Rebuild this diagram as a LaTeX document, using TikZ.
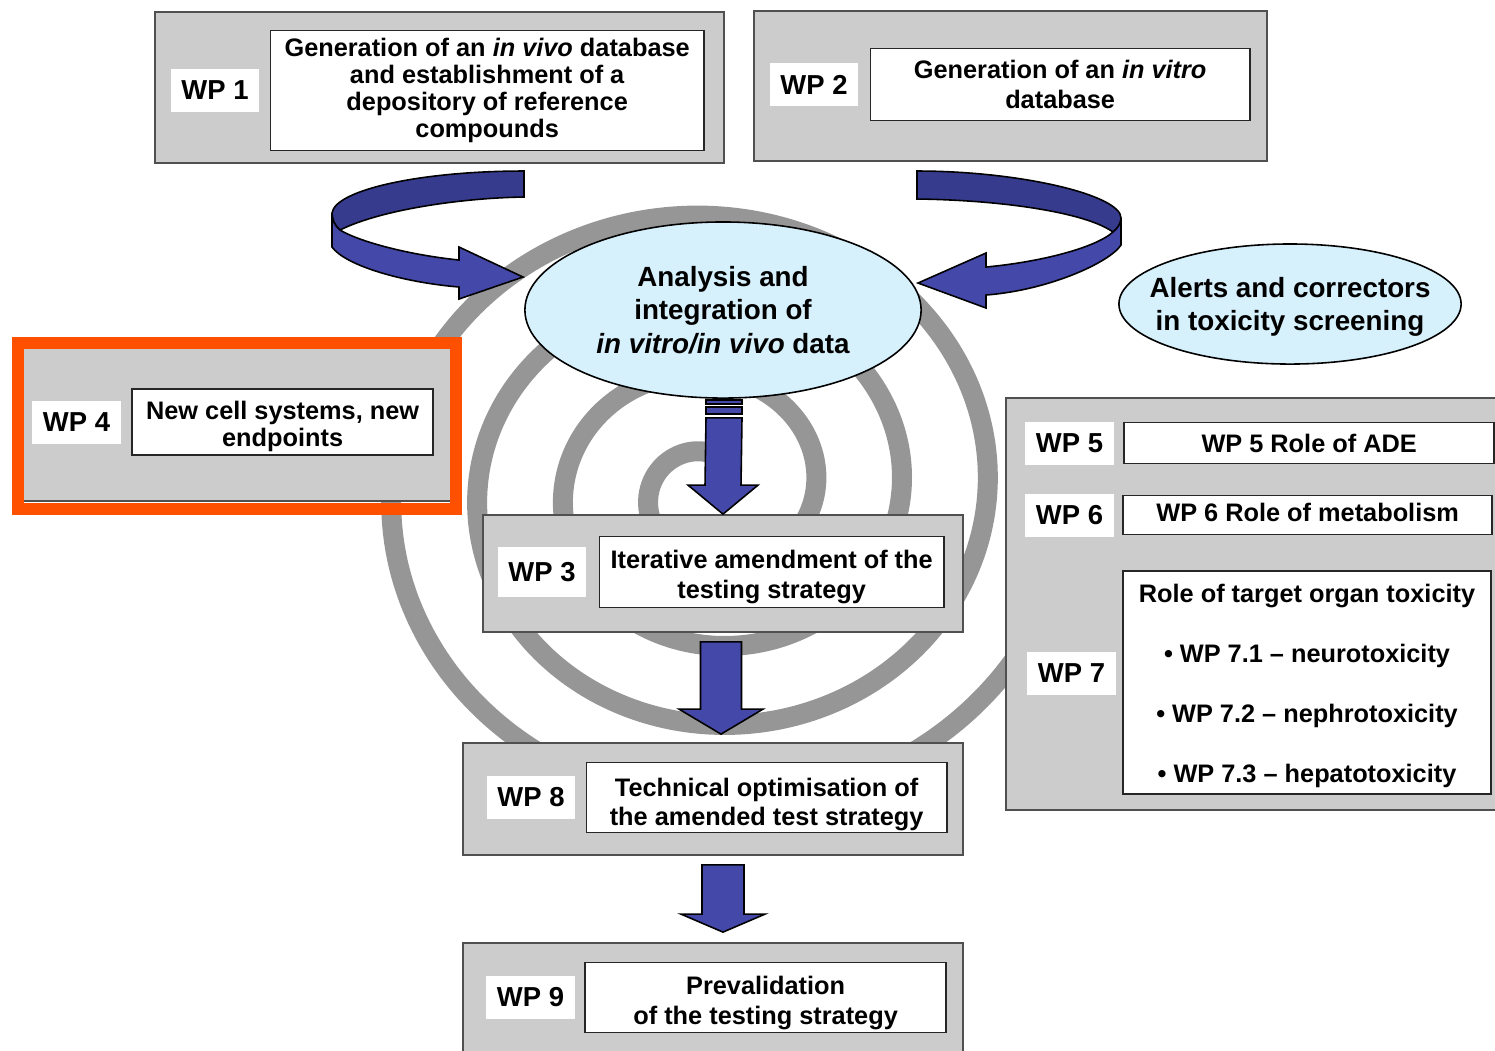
\documentclass[tikz,border=0pt]{standalone}
\usepackage{fontspec}
\setmainfont{Liberation Sans}
\usetikzlibrary{shapes,positioning,calc}

\definecolor{panelgray}{RGB}{204,204,204}
\definecolor{panelline}{RGB}{80,80,80}
\definecolor{spiralgray}{RGB}{150,150,150}
\definecolor{bubbleblue}{RGB}{214,240,252}
\definecolor{arrowblue}{RGB}{68,72,168}
\definecolor{arrowdark}{RGB}{54,59,142}
\definecolor{wpfour}{RGB}{255,80,0}

\newcommand{\labelfont}{\fontsize{7.8}{9}\selectfont\bfseries}
\newcommand{\bubblefont}{\fontsize{7.9}{9.5}\selectfont\bfseries}
\newcommand{\boxfont}{\fontsize{7.2}{8.5}\selectfont\bfseries}
\newcommand{\tightfont}{\fontsize{7.2}{7.7}\selectfont\bfseries}
\newcommand{\listfont}{\fontsize{7.2}{17.1}\selectfont\bfseries}
\newcommand{\ctr}[1]{\makebox[0pt]{#1}}
\newcommand{\tall}[1]{\rule{0pt}{#1}}

% block arrow pointing down: top of stem, tip, stem half width, head half width, head length
\newcommand{\blockdown}[5]{%
  \filldraw[blockarrow] ($(#1)+(-#3,0)$) -- ($(#2)+(-#3,-#5)$) -- ($(#2)+(-#4,-#5)$) -- (#2)
    -- ($(#2)+(#4,-#5)$) -- ($(#2)+(#3,-#5)$) -- ($(#1)+(#3,0)$) -- cycle;}

\begin{document}
\begin{tikzpicture}[x=0.01cm, y=-0.01cm,
    panel/.style={rectangle,draw=panelline,fill=panelgray,line width=0.5pt,inner sep=0pt},
    wplabel/.style={rectangle,fill=white,inner sep=0pt,minimum width=0.88cm,minimum height=0.43cm,font=\labelfont},
    wptext/.style={rectangle,draw=black!85,fill=white,line width=0.45pt,inner sep=0pt,align=center,font=\boxfont},
    bubble/.style={ellipse,draw,fill=bubbleblue,line width=0.45pt,inner sep=0pt,align=center,font=\bubblefont},
    blockarrow/.style={draw=black,fill=arrowblue,line width=0.45pt,line join=miter},
    ribbonback/.style={draw=black,fill=arrowdark,line width=0.45pt},
    ribbonfront/.style={draw=black,fill=arrowblue,line width=0.45pt}]
    \useasboundingbox (0,0) rectangle (1495,1050);
    \clip (0,0) rectangle (1495,1050);

    % spiral behind everything
    \draw [spiralgray,line width=0.2cm] plot [domain=40:1420,samples=360,smooth,variable=\t]
      ({711+(40+(\t-90)/360*86)*cos(\t)},{490-0.92*(40+(\t-90)/360*86)*sin(\t)});

    % curved arrows into the analysis
    \filldraw [ribbonback] (524,171) -- (524,197) .. controls (460,198) and (380,210) .. (340,230)
      .. controls (335,226) and (332,220) .. (332,213) .. controls (335,190) and (420,171) .. (524,171) -- cycle;
    \filldraw [ribbonfront] (332,213) -- (332,247) .. controls (345,265) and (400,282) .. (459,287)
      -- (459,299) -- (523,277) -- (459,247) -- (459,260) .. controls (410,255) and (360,242) .. (340,230)
      .. controls (335,226) and (332,220) .. (332,213) -- cycle;
    \filldraw [ribbonback] (917,171) -- (917,199) .. controls (1000,200) and (1085,212) .. (1113,232)
      .. controls (1118,228) and (1121,223) .. (1121,218) .. controls (1121,195) and (1020,171) .. (917,171) -- cycle;
    \filldraw [ribbonfront] (1121,218) -- (1121,245) .. controls (1110,262) and (1050,290) .. (986,295)
      -- (986,308) -- (918,283) -- (986,253) -- (986,267) .. controls (1040,262) and (1095,248) .. (1113,232)
      .. controls (1118,228) and (1121,223) .. (1121,218) -- cycle;

    \node [bubble,minimum width=3.96cm,minimum height=1.76cm] (analysis) at (723,310)
      {\ctr{Analysis and}\\\ctr{integration of}\\\ctr{\textit{in vitro/in vivo} data}};
    \node [bubble,minimum width=3.42cm,minimum height=1.20cm] (alerts) at (1290,304)
      {\tall{7.5pt}\ctr{Alerts and correctors}\\\ctr{in toxicity screening}};

    % WP 1 and WP 2
    \node [panel,minimum width=5.69cm,minimum height=1.51cm] (wpOne) at (439.5,87.5) {};
    \node [wplabel] (wpOneLabel) at (215,90.5) {WP 1};
    \node [wptext,right=0.1cm of wpOneLabel,minimum width=4.33cm,minimum height=1.2cm,font=\tightfont] (wpOneText)
      {Generation of an \textit{in vivo} database\\and establishment of a\\depository of reference\\compounds};
    \node [panel,minimum width=5.13cm,minimum height=1.5cm] (wpTwo) at (1010.5,86) {};
    \node [wplabel] (wpTwoLabel) at (814,84.5) {WP 2};
    \node [wptext,right=0.11cm of wpTwoLabel,minimum width=3.79cm,minimum height=0.72cm] (wpTwoText)
      {Generation of an \textit{in vitro}\\database};

    % WP 4
    \node [panel,minimum width=4.32cm,minimum height=1.55cm] (wpFour) at (236,423.5) {};
    \node [wplabel] (wpFourLabel) at (76.5,422) {WP 4};
    \node [wptext,right=0.1cm of wpFourLabel,minimum width=3.01cm,minimum height=0.66cm,font=\tightfont] (wpFourText)
      {\tall{7.5pt}New cell systems, new\\endpoints};
    \draw [wpfour,line width=0.12cm] (18,343) rectangle (456,509);

    % WP 3, WP 8, WP 9
    \node [panel,minimum width=4.8cm,minimum height=1.17cm] (wpThree) at (723,573.5) {};
    \node [wplabel,minimum height=0.5cm] (wpThreeLabel) at (542,572) {WP 3};
    \node [wptext,right=0.12cm of wpThreeLabel,minimum width=3.44cm,minimum height=0.71cm] (wpThreeText)
      {\tall{8.1pt}Iterative amendment of the\\testing strategy};
    \node [panel,minimum width=5cm,minimum height=1.12cm] (wpEight) at (713,799) {};
    \node [wplabel] (wpEightLabel) at (531,797.5) {WP 8};
    \node [wptext,right=0.1cm of wpEightLabel,minimum width=3.6cm,minimum height=0.7cm] (wpEightText)
      {\tall{9.2pt}Technical optimisation of\\the amended test strategy};
    \node [panel,minimum width=5cm,minimum height=1.17cm] (wpNine) at (713,1001.5) {};
    \node [wplabel] (wpNineLabel) at (530.5,997.5) {WP 9};
    \node [wptext,right=0.09cm of wpNineLabel,minimum width=3.61cm,minimum height=0.7cm] (wpNineText)
      {\tall{8.1pt}Prevalidation\\of the testing strategy};

    % WP 5, WP 6, WP 7
    \node [panel,minimum width=5.04cm,minimum height=4.12cm] (wpRoles) at (1258,604) {};
    \node [wplabel] (wpFiveLabel) at (1069.5,443) {WP 5};
    \node [wptext,right=0.09cm of wpFiveLabel,minimum width=3.7cm,minimum height=0.41cm] (wpFiveText)
      {WP 5 Role of ADE};
    \node [wplabel] (wpSixLabel) at (1069.5,515) {WP 6};
    \node [wptext,right=0.08cm of wpSixLabel,minimum width=3.69cm,minimum height=0.39cm] (wpSixText)
      {WP 6 Role of metabolism\rule[-1.7pt]{0pt}{1.7pt}};
    \node [wplabel] (wpSevenLabel) at (1071.5,673) {WP 7};
    \node [wptext,minimum width=3.68cm,minimum height=2.23cm,font=\listfont] (wpSevenText) at (1307,682.5)
      {\tall{7pt}Role of target organ toxicity\\• WP 7.1 – neurotoxicity\\• WP 7.2 – nephrotoxicity\\• WP 7.3 – hepatotoxicity};

    % block arrows down the middle
    \path ($(analysis.south)+(1,19)$) coordinate (stemOne) (wpThree.north) coordinate (tipOne);
    \filldraw [blockarrow] ($(stemOne)+(-18,-18)$) rectangle ($(stemOne)+(18,-14)$);
    \filldraw [blockarrow] ($(stemOne)+(-18,-11)$) rectangle ($(stemOne)+(18,-4)$);
    \blockdown{stemOne}{tipOne}{18}{35}{29}
    \path ($(wpThree.south)+(-2,9)$) coordinate (stemTwo) ($(stemTwo |- wpEight.north)+(0,-8)$) coordinate (tipTwo);
    \blockdown{stemTwo}{tipTwo}{20.5}{42}{25}
    \path ($(wpEight.south)+(10,9)$) coordinate (stemThree) ($(stemThree |- wpNine.north)+(0,-10)$) coordinate (tipThree);
    \blockdown{stemThree}{tipThree}{21}{42}{18}
\end{tikzpicture}
\end{document}
